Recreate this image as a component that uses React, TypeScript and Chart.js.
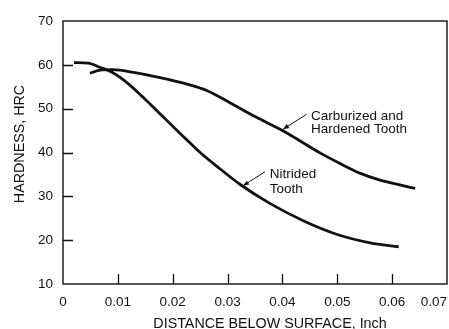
import React, { useEffect, useRef } from "react";
import { Chart, registerables } from "chart.js";

Chart.register(...registerables);

// Data
const nitridedX = [0.002, 0.0046, 0.0068, 0.0091, 0.0117, 0.0146, 0.0177, 0.0214, 0.025, 0.028, 0.0323, 0.0377, 0.0437, 0.05, 0.056, 0.0612];
const nitridedY = [60.5, 60.4, 59.4, 58.2, 55.9, 52.6, 48.8, 44.3, 40.0, 36.9, 32.7, 28.4, 24.5, 21.3, 19.4, 18.5];
const carbX = [0.0049, 0.0068, 0.0091, 0.0128, 0.0177, 0.0226, 0.0263, 0.0305, 0.035, 0.04, 0.047, 0.0505, 0.0541, 0.0578, 0.0614, 0.0642];
const carbY = [58.1, 58.8, 58.9, 58.3, 57.1, 55.6, 54.1, 51.3, 48.2, 45.0, 39.8, 37.5, 35.3, 33.7, 32.6, 31.8];

const xTicks = [0, 0.01, 0.02, 0.03, 0.04, 0.05, 0.06, 0.07];
const yTicks = [10, 20, 30, 40, 50, 60, 70];

const xTitle = "DISTANCE BELOW SURFACE, Inch";
const yTitle = "HARDNESS, HRC";

// Annotations (data coordinates)
const carbLabel = ["Carburized and", "Hardened Tooth"];
const carbArrow = { tip: [0.0401, 45.3], tail: [0.0444, 48.7], text: [0.0452, 47.4], lineStep: 3.0 };
const nitLabel = ["Nitrided", "Tooth"];
const nitArrow = { tip: [0.0328, 32.4], tail: [0.0368, 35.6], text: [0.0377, 34.2], lineStep: 3.35 };

const FONT = "'Liberation Sans', Arial, Helvetica, sans-serif";
const INK = "#111111";

export default function App() {
  const ref = useRef<HTMLCanvasElement>(null);

  useEffect(() => {
    const canvas = ref.current;
    if (!canvas) return;

    const decor = {
      id: "decor",
      afterDraw(chart: any) {
        const { ctx, chartArea } = chart;
        const xs = chart.scales.x;
        const ys = chart.scales.y;
        const { left, right, top, bottom } = chartArea;
        ctx.save();
        // frame
        ctx.strokeStyle = INK;
        ctx.lineWidth = 1.4;
        ctx.strokeRect(left, top, right - left, bottom - top);
        // inward ticks
        ctx.lineWidth = 1.3;
        ctx.beginPath();
        yTicks.slice(1, -1).forEach((v) => {
          const y = Math.round(ys.getPixelForValue(v)) + 0.5;
          ctx.moveTo(left, y);
          ctx.lineTo(left + 10, y);
        });
        xTicks.slice(1, -1).forEach((v) => {
          const x = Math.round(xs.getPixelForValue(v)) + 0.5;
          ctx.moveTo(x, bottom);
          ctx.lineTo(x, bottom - 10);
        });
        ctx.stroke();

        // titles
        ctx.fillStyle = INK;
        ctx.font = `14.3px ${FONT}`;
        ctx.textAlign = "center";
        ctx.textBaseline = "alphabetic";
        ctx.fillText(xTitle, 270, 328);
        ctx.save();
        ctx.translate(24, 144);
        ctx.rotate(-Math.PI / 2);
        ctx.fillText(yTitle, 0, 0);
        ctx.restore();

        // annotations
        const drawAnn = (lines: string[], a: any) => {
          const tx = xs.getPixelForValue(a.tip[0]);
          const ty = ys.getPixelForValue(a.tip[1]);
          const sx = xs.getPixelForValue(a.tail[0]);
          const sy = ys.getPixelForValue(a.tail[1]);
          ctx.strokeStyle = INK;
          ctx.lineWidth = 1;
          ctx.beginPath();
          ctx.moveTo(sx, sy);
          ctx.lineTo(tx, ty);
          ctx.stroke();
          const ang = Math.atan2(ty - sy, tx - sx);
          const L = 6, W = 2.3;
          ctx.beginPath();
          ctx.moveTo(tx, ty);
          ctx.lineTo(tx - L * Math.cos(ang) + W * Math.sin(ang), ty - L * Math.sin(ang) - W * Math.cos(ang));
          ctx.lineTo(tx - L * Math.cos(ang) - W * Math.sin(ang), ty - L * Math.sin(ang) + W * Math.cos(ang));
          ctx.closePath();
          ctx.fill();
          ctx.font = `13.5px ${FONT}`;
          ctx.textAlign = "left";
          ctx.textBaseline = "alphabetic";
          const px = xs.getPixelForValue(a.text[0]);
          lines.forEach((s, i) => {
            const py = ys.getPixelForValue(a.text[1] - i * a.lineStep);
            ctx.fillText(s, px, py);
          });
        };
        drawAnn(carbLabel, carbArrow);
        drawAnn(nitLabel, nitArrow);
        ctx.restore();
      },
    };

    const chart = new Chart(canvas, {
      type: "line",
      data: {
        datasets: [
          {
            label: "Carburized and Hardened Tooth",
            data: carbX.map((x, i) => ({ x, y: carbY[i] })),
            borderColor: INK,
            borderWidth: 2.8,
            pointRadius: 0,
            cubicInterpolationMode: "monotone",
            fill: false,
          },
          {
            label: "Nitrided Tooth",
            data: nitridedX.map((x, i) => ({ x, y: nitridedY[i] })),
            borderColor: INK,
            borderWidth: 2.8,
            pointRadius: 0,
            cubicInterpolationMode: "monotone",
            fill: false,
          },
        ],
      },
      options: {
        animation: false,
        responsive: false,
        maintainAspectRatio: false,
        layout: { padding: { left: 0, top: 21, right: 2, bottom: 0 } },
        plugins: { legend: { display: false }, tooltip: { enabled: false } },
        scales: {
          x: {
            type: "linear",
            min: 0,
            max: 0.07,
            afterBuildTicks: (s: any) => {
              s.ticks = xTicks.map((v) => ({ value: v }));
            },
            afterFit: (s: any) => {
              s.height = 45;
              s.paddingLeft = 0;
              s.paddingRight = 0;
            },
            grid: { display: false, drawTicks: false },
            border: { display: false },
            ticks: {
              padding: 10,
              color: INK,
              font: { family: FONT, size: 13.5 },
              maxRotation: 0,
              autoSkip: false,
              callback: (v: any, i: number) => {
                const s = String(Number(Number(v).toFixed(2)));
                // last label sits inside the canvas edge, as in the original
                return i === xTicks.length - 1 ? s + "       " : s;
              },
            },
          },
          y: {
            type: "linear",
            min: 10,
            max: 70,
            afterBuildTicks: (s: any) => {
              s.ticks = yTicks.map((v) => ({ value: v }));
            },
            afterFit: (s: any) => {
              s.width = 63;
              s.paddingTop = 0;
              s.paddingBottom = 0;
            },
            grid: { display: false, drawTicks: false },
            border: { display: false },
            ticks: {
              padding: 10,
              color: INK,
              font: { family: FONT, size: 13.5 },
              autoSkip: false,
              callback: (v: any) => String(v),
            },
          },
        },
      },
      plugins: [decor],
    } as any);

    return () => chart.destroy();
  }, []);

  return (
    <div style={{ position: "fixed", left: 0, top: 0, width: 449, height: 329, background: "#fff" }}>
      <canvas ref={ref} width={449} height={329} style={{ width: 449, height: 329, display: "block" }} />
    </div>
  );
}
